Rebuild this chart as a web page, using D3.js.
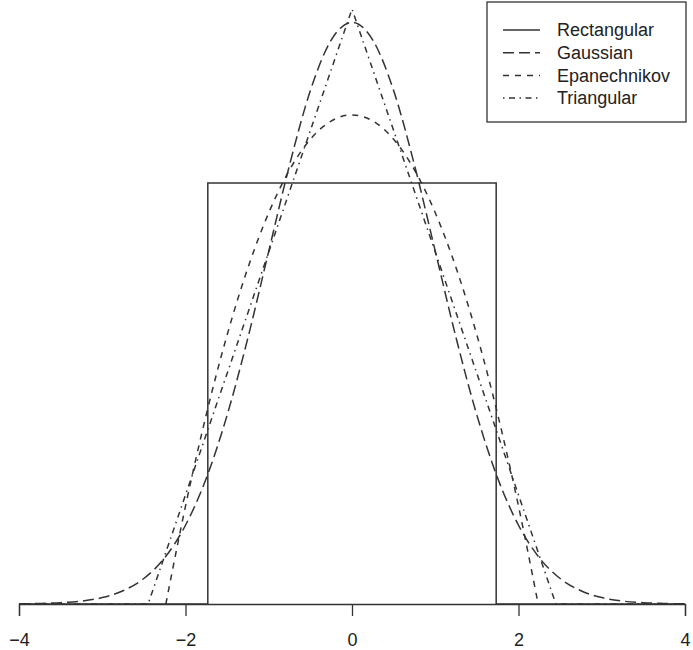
<!DOCTYPE html>
<html>
<head>
<meta charset="utf-8">
<script src="https://cdn.jsdelivr.net/npm/d3@7"></script>
<style>
  body { margin: 0; background: #fff; }
  text { font-family: "Liberation Sans", Arial, sans-serif; fill: #222; }
</style>
</head>
<body>
<script>
// values (x, density)
const rectX = [-4, -1.732, -1.732, 1.732, 1.732, 4];
const rectY = [0, 0, 0.2887, 0.2887, 0, 0];

const gaussX = [-4, -3.75, -3.5, -3.25, -3, -2.75, -2.5, -2.25, -2, -1.75, -1.5, -1.25, -1, -0.75, -0.5, -0.25, 0,
                0.25, 0.5, 0.75, 1, 1.25, 1.5, 1.75, 2, 2.25, 2.5, 2.75, 3, 3.25, 3.5, 3.75, 4];
const gaussY = [0.0001, 0.0004, 0.0009, 0.002, 0.0044, 0.0091, 0.0175, 0.0317, 0.054, 0.0863, 0.1295, 0.1826, 0.242, 0.3011, 0.3521, 0.3867, 0.3989,
                0.3867, 0.3521, 0.3011, 0.242, 0.1826, 0.1295, 0.0863, 0.054, 0.0317, 0.0175, 0.0091, 0.0044, 0.002, 0.0009, 0.0004, 0.0001];

const epanX = [-2.236, -2, -1.75, -1.5, -1.25, -1, -0.75, -0.5, -0.25, 0, 0.25, 0.5, 0.75, 1, 1.25, 1.5, 1.75, 2, 2.236];
const epanY = [0, 0.0671, 0.13, 0.1845, 0.2306, 0.2683, 0.2977, 0.3187, 0.3312, 0.3354, 0.3312, 0.3187, 0.2977, 0.2683, 0.2306, 0.1845, 0.13, 0.0671, 0];

const triX = [-4, -2.449, 0, 2.449, 4];
const triY = [0, 0, 0.408, 0, 0];

const legendLabels = ["Rectangular", "Gaussian", "Epanechnikov", "Triangular"];
const dashes = [null, "11,5", "6,6", "1.5,4.5,6,4.5"];
const xTicks = [-4, -2, 0, 2, 4];

const W = 693, H = 650;
const svg = d3.select("body").append("svg")
    .attr("width", W)
    .attr("height", H);

const x = d3.scaleLinear().domain([-4, 4]).range([19, 685]);
const y = d3.scaleLinear().domain([0, 0.2887]).range([604, 183]);

// axis
const axis = svg.append("g")
    .attr("transform", `translate(0,${y(0)})`)
    .call(d3.axisBottom(x).tickValues(xTicks).tickSize(12).tickPadding(17)
      .tickFormat(d => d < 0 ? "\u2212" + Math.abs(d) : d));
axis.select(".domain").attr("stroke", "#333").attr("stroke-width", 1.3);
axis.selectAll(".tick line").attr("stroke", "#333").attr("stroke-width", 1.3);
axis.selectAll(".tick text").attr("font-size", 18).attr("font-family", "Liberation Sans, Arial, sans-serif").attr("fill", "#222");

const toPts = (xs, ys) => xs.map((v, i) => [v, ys[i]]);
const lineLin = d3.line().x(d => x(d[0])).y(d => y(d[1]));
const lineSmooth = d3.line().x(d => x(d[0])).y(d => y(d[1])).curve(d3.curveMonotoneX);

const series = [
  { pts: toPts(rectX, rectY), gen: lineLin },
  { pts: toPts(gaussX, gaussY), gen: lineSmooth },
  { pts: toPts(epanX, epanY), gen: lineSmooth },
  { pts: toPts(triX, triY), gen: lineLin }
];

series.forEach((s, i) => {
  svg.append("path")
      .attr("d", s.gen(s.pts))
      .attr("fill", "none")
      .attr("stroke", "#333")
      .attr("stroke-width", 1.5)
      .attr("stroke-dasharray", dashes[i]);
});

// legend
const lg = svg.append("g");
lg.append("rect")
    .attr("x", 487).attr("y", 2)
    .attr("width", 199).attr("height", 120)
    .attr("fill", "#fff").attr("stroke", "#333").attr("stroke-width", 1.3);
legendLabels.forEach((lab, i) => {
  const yy = 30 + i * 22.7;
  lg.append("line")
      .attr("x1", 503).attr("x2", 540)
      .attr("y1", yy).attr("y2", yy)
      .attr("stroke", "#333").attr("stroke-width", 1.5)
      .attr("stroke-dasharray", dashes[i]);
  lg.append("text")
      .attr("x", 557).attr("y", yy)
      .attr("dy", "0.35em")
      .attr("font-size", 18)
      .text(lab);
});
</script>
</body>
</html>
